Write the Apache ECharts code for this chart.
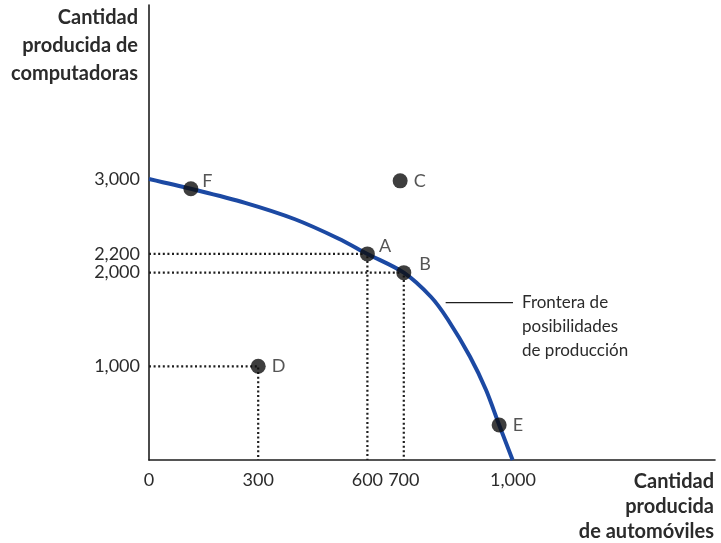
<!DOCTYPE html>
<html>
<head>
<meta charset="utf-8">
<script src="https://cdn.jsdelivr.net/npm/echarts@6/dist/echarts.min.js"></script>
<style>
html,body{margin:0;padding:0;background:#fff;}
#chart{width:721px;height:543px;}
</style>
</head>
<body>
<div id="chart"></div>
<script>
// ---- data ----
const frontierX = [0, 115, 264, 401, 520, 600, 700, 775, 821, 882, 926, 962, 999];
const frontierY = [3000, 2895, 2745, 2570, 2365, 2200, 2000, 1740, 1500, 1102, 747, 374, 0];
const pointNames = ['F', 'A', 'B', 'C', 'D', 'E'];
const pointX = [115, 600, 700, 690, 300, 962];
const pointY = [2895, 2200, 2000, 2980, 1000, 374];
const guidePoints = ['A', 'B', 'D'];
const xTicks = [0, 300, 600, 700, 1000];
const yTicks = [1000, 2000, 2200, 3000];
const annotationX = [815, 1000];
const annotationY = [1680, 1680];
const yTitle = ['Cantidad', 'producida de', 'computadoras'];
const xTitle = ['Cantidad', 'producida', 'de automóviles'];
const frontierLabel = ['Frontera de', 'posibilidades', 'de producción'];

// ---- build ----
const chart = echarts.init(document.getElementById('chart'));
const fmt = v => v.toLocaleString('en-US');
const BLUE = '#1c49a3';
const INK = '#1e1e1e';
const TXT = '#2b2b2b';
const FONT = 'Lato';

const labelOffsets = {F: [-2, -8], A: [-2, -8], B: [2, -8], C: [0, 0], D: [0, 0], E: [0, 0]};

const series = [];
guidePoints.forEach(n => {
  const i = pointNames.indexOf(n);
  series.push({
    type: 'line', silent: true, symbol: 'none', z: 1,
    data: [[0, pointY[i]], [pointX[i], pointY[i]], [pointX[i], 0]],
    lineStyle: {color: INK, width: 2.2, type: [2, 2.6]}
  });
});
series.push({
  type: 'line', symbol: 'none', smooth: 0.3, z: 3,
  data: frontierX.map((x, i) => [x, frontierY[i]]),
  lineStyle: {color: BLUE, width: 4}
});
series.push({
  type: 'line', symbol: 'none', z: 2,
  data: annotationX.map((x, i) => [x, annotationY[i]]),
  lineStyle: {color: INK, width: 1.2}
});
series.push({
  type: 'scatter', symbolSize: 15, z: 5,
  itemStyle: {color: '#0e0e0e'},
  data: pointNames.map((n, i) => ({
    value: [pointX[i], pointY[i]],
    name: n,
    label: {show: true, position: 'right', distance: 6, offset: labelOffsets[n],
      formatter: n, color: TXT, fontSize: 18, fontFamily: FONT}
  }))
});

const titleLines = (lines, x, y0, lh) => lines.map((t, k) => ({
  type: 'text', silent: true,
  style: {text: t, x: x, y: y0 + k * lh, align: 'right', verticalAlign: 'middle',
    font: 'bold 20px ' + FONT, fill: TXT}
}));

const option = {
  animation: false,
  backgroundColor: '#fff',
  grid: {left: 149, right: 6, top: 5, bottom: 83, containLabel: false},
  xAxis: {
    type: 'value', min: 0, max: 1555,
    axisLine: {show: true, lineStyle: {color: INK, width: 1.6}},
    axisTick: {show: false},
    splitLine: {show: false},
    axisLabel: {customValues: xTicks, formatter: v => fmt(v), color: TXT,
      fontSize: 18, fontFamily: FONT, margin: 11}
  },
  yAxis: {
    type: 'value', min: 0, max: 4857,
    axisLine: {show: true, lineStyle: {color: INK, width: 1.6}},
    axisTick: {show: false},
    splitLine: {show: false},
    axisLabel: {customValues: yTicks, formatter: v => fmt(v), color: TXT,
      fontSize: 18, fontFamily: FONT, margin: 9}
  },
  graphic: [].concat(
    titleLines(yTitle, 138, 18, 28),
    titleLines(xTitle, 714, 482, 25),
    frontierLabel.map((t, k) => ({
      type: 'text', silent: true,
      style: {text: t, x: 522, y: 303 + k * 24, verticalAlign: 'middle',
        font: '17px ' + FONT, fill: TXT}
    }))
  ),
  series: series
};
chart.setOption(option);
</script>
</body>
</html>
